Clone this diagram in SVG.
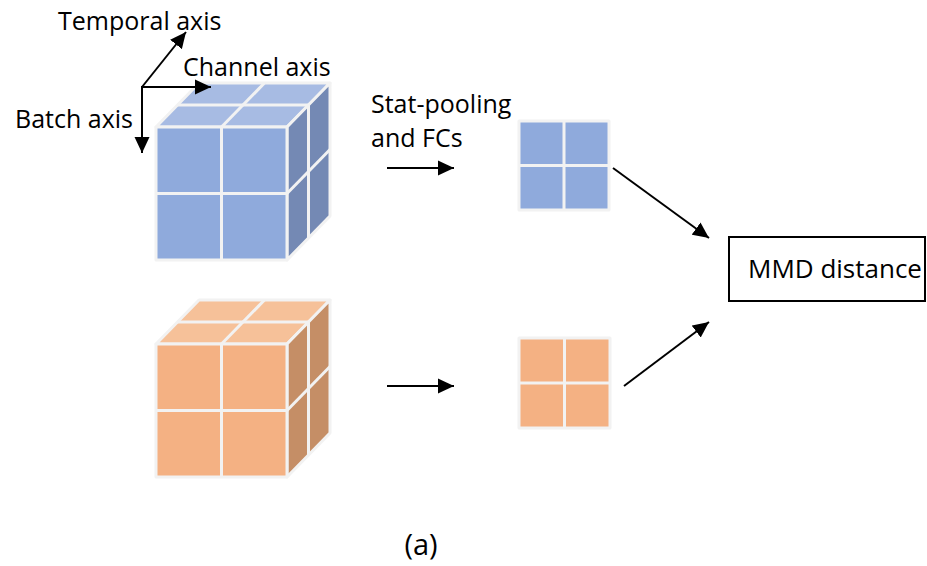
<svg xmlns="http://www.w3.org/2000/svg" width="927" height="566" viewBox="0 0 927 566">
  <style>
    text { font-family: "Open Sans", "Liberation Sans", sans-serif; fill: #000; }
    .lbl { font-size: 25px; }
    .grid { stroke: #f2f2f2; stroke-width: 3; fill: none; }
    .edge { stroke: #f2f2f2; stroke-width: 3; stroke-linejoin: round; }
    .blue { --front: #8faadc; --top: #a7bbe3; --side: #7489b4; }
    .orange { --front: #f4b183; --top: #f6c199; --side: #c58e66; }
    .front { fill: var(--front); }
    .top { fill: var(--top); }
    .side { fill: var(--side); }
    .conn { stroke: #000; stroke-width: 2; fill: none; }
  </style>
  <defs>
    <marker id="arrow" markerUnits="userSpaceOnUse" markerWidth="17" markerHeight="16" refX="16" refY="8" orient="auto">
      <path d="M0,0.5 L16,8 L0,15.5 z" fill="#000"/>
    </marker>
    <!-- 2x2x2 cube: front face 131x133, depth offset (43,-44) -->
    <g id="cube">
      <polygon class="top edge" points="0,0 131,0 174,-44 43,-44"/>
      <polygon class="side edge" points="131,0 174,-44 174,89 131,133"/>
      <rect class="front edge" x="0" y="0" width="131" height="133"/>
      <line class="grid" x1="65.5" y1="0" x2="65.5" y2="133"/>
      <line class="grid" x1="0" y1="66.5" x2="131" y2="66.5"/>
      <line class="grid" x1="21.5" y1="-22" x2="152.5" y2="-22"/>
      <line class="grid" x1="65.5" y1="0" x2="108.5" y2="-44"/>
      <line class="grid" x1="152.5" y1="-22" x2="152.5" y2="111"/>
      <line class="grid" x1="131" y1="66.5" x2="174" y2="22.5"/>
    </g>
  </defs>

  <!-- axis labels -->
  <g id="axes">
    <text class="lbl" x="58" y="30">Temporal axis</text>
    <text class="lbl" x="183" y="76">Channel axis</text>
    <text class="lbl" x="15" y="128">Batch axis</text>
  </g>

  <g id="cube-source" class="blue" transform="translate(156,127)">
    <use href="#cube"/>
  </g>
  <g id="cube-target" class="orange" transform="translate(156,344)">
    <use href="#cube"/>
  </g>

  <g id="label-pooling">
    <text class="lbl" x="371" y="113">Stat-pooling</text>
    <text class="lbl" x="371" y="147">and FCs</text>
  </g>

  <g id="embed-source" class="blue">
    <rect class="front edge" x="519" y="121" width="90" height="89"/>
    <line class="grid" x1="564" y1="121" x2="564" y2="210"/>
    <line class="grid" x1="519" y1="165.5" x2="609" y2="165.5"/>
  </g>
  <g id="embed-target" class="orange">
    <rect class="front edge" x="519" y="338" width="91" height="90"/>
    <line class="grid" x1="564.5" y1="338" x2="564.5" y2="428"/>
    <line class="grid" x1="519" y1="383" x2="610" y2="383"/>
  </g>

  <g id="mmd">
    <rect x="729" y="237" width="196" height="64" fill="#fff" stroke="#000" stroke-width="2"/>
    <text x="748" y="278" font-size="26">MMD distance</text>
  </g>

  <text id="caption" x="421" y="555" font-size="29" text-anchor="middle">(a)</text>

  <g id="connectors" class="conn">
    <line x1="142" y1="87" x2="186" y2="32" marker-end="url(#arrow)"/>
    <line x1="141" y1="87" x2="211" y2="87" marker-end="url(#arrow)"/>
    <line x1="142" y1="86" x2="142" y2="153" marker-end="url(#arrow)"/>
    <line x1="387" y1="168" x2="454" y2="168" marker-end="url(#arrow)"/>
    <line x1="387" y1="386" x2="454" y2="386" marker-end="url(#arrow)"/>
    <line x1="613" y1="168" x2="709" y2="238" marker-end="url(#arrow)"/>
    <line x1="624" y1="386" x2="709" y2="322" marker-end="url(#arrow)"/>
  </g>
</svg>
